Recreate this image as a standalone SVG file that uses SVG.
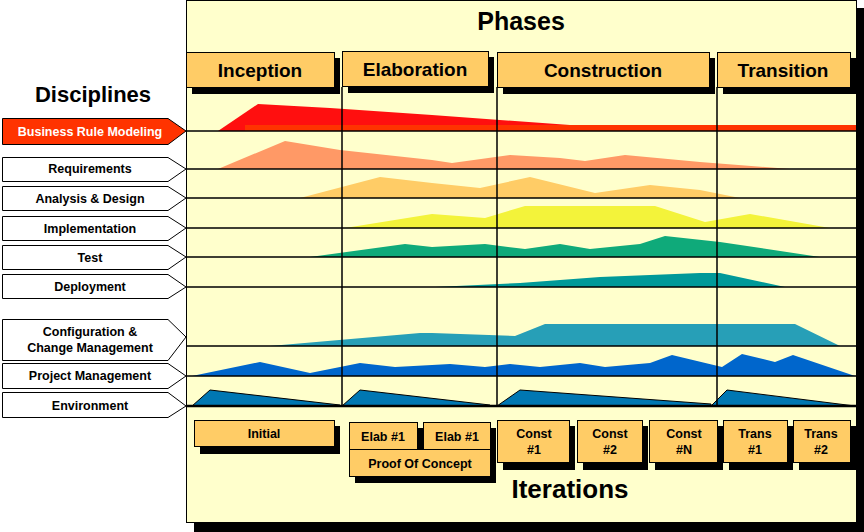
<svg xmlns="http://www.w3.org/2000/svg" width="864" height="532" viewBox="0 0 864 532">
<style>
text{font-family:"Liberation Sans",Arial,sans-serif;font-weight:bold;fill:#000;text-anchor:middle}
.box{fill:#FFCC66;stroke:#000;stroke-width:1}
.sh{fill:#000}
.lbl{fill:#fff;stroke:#000;stroke-width:1}
.ln{stroke:#000;stroke-width:1.5;fill:none}
.t12{font-size:12.5px}
.t13{font-size:15px}
.ph{font-size:19px}
</style>
<rect width="864" height="532" fill="#fff"/>
<rect x="194" y="8" width="670" height="524" fill="#000"/>
<rect x="186.5" y="0.5" width="670" height="522" fill="#FFFFCC" stroke="#000"/>
<g id="title"><text x="521" y="30" style="font-size:25px">Phases</text>
<text x="93" y="102" style="font-size:22px">Disciplines</text>
<text x="570" y="498" style="font-size:26px">Iterations</text></g>
<g id="areas">
<polygon fill="#FF0F0F" points="218,131 258,104 330,108 432,115 570,125 570,131"/>
<rect x="245" y="125" width="611" height="6" fill="#FF3300"/>
<polygon fill="#FF9966" points="218,169 285,141 340,150 432,160 452,163 510,155 560,158 585,161 625,155 700,162 790,169"/>
<polygon fill="#FFCC66" points="300,198 380,177 432,183 480,188 530,177 595,193 650,185 700,190 740,198"/>
<polygon fill="#F3F33A" points="345,228 432,214 485,218 525,206 655,206 705,222 750,214 830,228"/>
<polygon fill="#0FAA7A" points="310,257 405,244 432,247 485,244 525,249 560,244 590,249 640,244 665,236 720,242 820,257"/>
<polygon fill="#009999" points="435,287 520,283 600,277 700,273 720,273 785,287"/>
<polygon fill="#279FB7" points="270,346 420,333 432,333 515,336 545,324 795,324 840,346"/>
<polygon fill="#0066CC" points="192,376 260,362 310,373 360,363 395,367 432,365 450,364 485,367 510,364 540,367 580,363 605,367 650,363 672,355 722,367 742,354 775,362 793,355 855,376"/>
<g fill="#0077B3" stroke="#000" stroke-width="1">
<polygon points="192,406 210,390 340,405 340,406"/>
<polygon points="342,406 360,390 490,405 490,406"/>
<polygon points="497,406 520,390 711,404 711,406"/>
<polygon points="711,406 727,390 855,406"/>
</g>
</g>
<g id="connectors">
<path class="ln" d="M342 87V406M497 87V406M717 87V406"/>
<path class="ln" d="M186 131H856M186 169H856M186 198H856M186 228H856M186 257H856M186 287H856M186 346H856M186 376H856"/>
<path d="M186 406H856" stroke="#000" stroke-width="2.5"/>
</g>
<g id="phases">
<rect class="sh" x="192" y="58" width="148" height="36"/>
<rect class="box" x="186.5" y="52.5" width="148" height="35"/><text class="ph" x="260" y="77">Inception</text>
<rect class="sh" x="348" y="57" width="146" height="36"/>
<rect class="box" x="342.5" y="51.5" width="146" height="35"/><text class="ph" x="415" y="76">Elaboration</text>
<rect class="sh" x="503" y="58" width="212" height="36"/>
<rect class="box" x="497.5" y="52.5" width="212" height="35"/><text class="ph" x="603" y="77">Construction</text>
<rect class="sh" x="723" y="58" width="133" height="36"/>
<rect class="box" x="717.5" y="52.5" width="133" height="35"/><text class="ph" x="783" y="77">Transition</text>
</g>
<g id="disciplines">
<g id="brm"><path d="M2.5 118.5H168L186 131L168 144.5H2.5Z" fill="#FF3300" stroke="#000"/><text class="t12" x="90" y="136" style="fill:#fff">Business Rule Modeling</text></g>
<g id="req"><path class="lbl" d="M2.5 157.5H168L186 169L168 181.5H2.5Z"/><text class="t12" x="90" y="173">Requirements</text></g>
<g id="ad"><path class="lbl" d="M2.5 186.5H168L186 198L168 210.5H2.5Z"/><text class="t12" x="90" y="203">Analysis &amp; Design</text></g>
<g id="impl"><path class="lbl" d="M2.5 216.5H168L186 228L168 240.5H2.5Z"/><text class="t12" x="90" y="233">Implementation</text></g>
<g id="test"><path class="lbl" d="M2.5 245.5H168L186 257L168 269.5H2.5Z"/><text class="t12" x="90" y="262">Test</text></g>
<g id="dep"><path class="lbl" d="M2.5 274.5H168L186 287L168 298.5H2.5Z"/><text class="t12" x="90" y="291">Deployment</text></g>
<g id="cfg"><path class="lbl" d="M2.5 319.5H168L186 337L168 360.5H2.5Z"/><text class="t12" x="90" y="336">Configuration &amp;</text><text class="t12" x="90" y="352">Change Management</text></g>
<g id="pm"><path class="lbl" d="M2.5 363.5H168L186 376L168 388.5H2.5Z"/><text class="t12" x="90" y="380">Project Management</text></g>
<g id="env"><path class="lbl" d="M2.5 392.5H168L186 406L168 417.5H2.5Z"/><text class="t12" x="90" y="410">Environment</text></g>
</g>
<g id="iterations">
<rect class="sh" x="200" y="426" width="140" height="28"/>
<rect class="box" x="194.5" y="420.5" width="140" height="26"/><text class="t12" x="264" y="438">Initial</text>
<rect class="sh" x="355" y="428" width="141" height="55"/>
<rect class="box" x="349.5" y="422.5" width="68" height="27"/><text class="t12" x="383" y="441">Elab #1</text>
<rect class="box" x="423.5" y="422.5" width="67" height="27"/><text class="t12" x="457" y="441">Elab #1</text>
<rect class="box" x="349.5" y="449.5" width="141" height="27"/><text class="t12" x="420" y="468">Proof Of Concept</text>
<rect class="sh" x="503" y="426" width="72" height="44"/>
<rect class="box" x="497.5" y="420.5" width="72" height="42"/><text class="t12" x="534" y="438">Const</text><text class="t12" x="534" y="454">#1</text>
<rect class="sh" x="583" y="426" width="65" height="44"/>
<rect class="box" x="577.5" y="420.5" width="65" height="42"/><text class="t12" x="610" y="438">Const</text><text class="t12" x="610" y="454">#2</text>
<rect class="sh" x="655" y="426" width="68" height="44"/>
<rect class="box" x="649.5" y="420.5" width="68" height="42"/><text class="t12" x="684" y="438">Const</text><text class="t12" x="684" y="454">#N</text>
<rect class="sh" x="729" y="426" width="64" height="44"/>
<rect class="box" x="723.5" y="420.5" width="64" height="42"/><text class="t12" x="755" y="438">Trans</text><text class="t12" x="755" y="454">#1</text>
<rect class="sh" x="799" y="426" width="57" height="44"/>
<rect class="box" x="793.5" y="420.5" width="57" height="42"/><text class="t12" x="821" y="438">Trans</text><text class="t12" x="821" y="454">#2</text>
</g>
</svg>
